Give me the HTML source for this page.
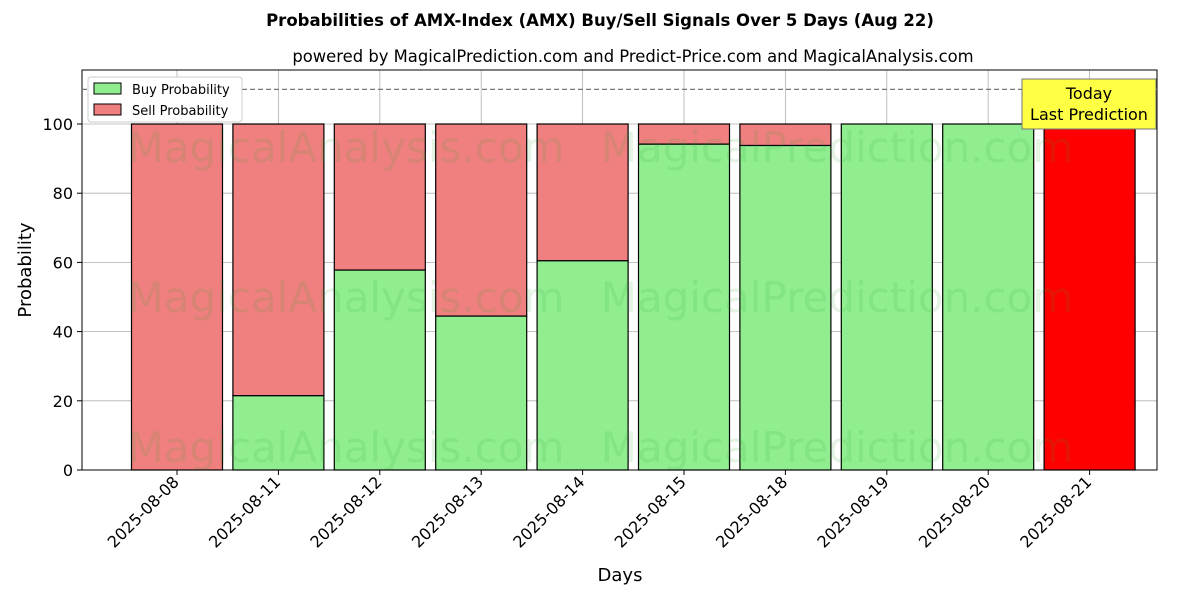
<!DOCTYPE html>
<html><head><meta charset="utf-8"><style>
body{margin:0;background:#fff;font-family:"DejaVu Sans","Liberation Sans",sans-serif;}
</style></head><body>
<svg id="chart" width="1200" height="600" xmlns="http://www.w3.org/2000/svg" font-family="DejaVu Sans, Liberation Sans, sans-serif">
<rect width="1200" height="600" fill="#fff"/>
<text x="600" y="26" text-anchor="middle" font-size="16.5" font-weight="bold">Probabilities of AMX-Index (AMX) Buy/Sell Signals Over 5 Days (Aug 22)</text>
<text x="633" y="62" text-anchor="middle" font-size="16.4">powered by MagicalPrediction.com and Predict-Price.com and MagicalAnalysis.com</text>
<g id="grid"></g>
<g id="bars"></g>
<g id="wm" font-size="42" fill="#2ca02c" fill-opacity="0.13">
<text x="346" y="162" text-anchor="middle">MagicalAnalysis.com</text>
<text x="837" y="162" text-anchor="middle">MagicalPrediction.com</text>
<text x="346" y="312" text-anchor="middle">MagicalAnalysis.com</text>
<text x="837" y="312" text-anchor="middle">MagicalPrediction.com</text>
<text x="346" y="462" text-anchor="middle">MagicalAnalysis.com</text>
<text x="837" y="462" text-anchor="middle">MagicalPrediction.com</text>
</g>
<g id="axes"></g>
<line x1="82" x2="1157" y1="89.4" y2="89.4" stroke="#777" stroke-width="1.2" stroke-dasharray="5,3"/>
<g>
<rect x="88" y="77" width="154" height="45" fill="#fff" stroke="#ccc" rx="3"/>
<rect x="94" y="83" width="27" height="11" fill="#90ee90" stroke="#000"/>
<text x="132" y="94" font-size="13">Buy Probability</text>
<rect x="94" y="104" width="27" height="11" fill="#f08080" stroke="#000"/>
<text x="132" y="115" font-size="13">Sell Probability</text>
</g>
<g>
<rect x="1022" y="79" width="134" height="50" fill="#ffff44" stroke="#777"/>
<text x="1089" y="99" text-anchor="middle" font-size="16">Today</text>
<text x="1089" y="120" text-anchor="middle" font-size="16">Last Prediction</text>
</g>
<text x="620" y="581" text-anchor="middle" font-size="18">Days</text>
<text transform="translate(31,270) rotate(-90)" text-anchor="middle" font-size="18">Probability</text>
</svg>
<script>
const categories=["2025-08-08","2025-08-11","2025-08-12","2025-08-13","2025-08-14","2025-08-15","2025-08-18","2025-08-19","2025-08-20","2025-08-21"];
const buyValues=[0,21.5,57.8,44.5,60.5,94.2,93.8,100,100,100];
const sellValues=[100,78.5,42.2,55.5,39.5,5.8,6.2,0,0,0];
const yTicks=[0,20,40,60,80,100];
const NS="http://www.w3.org/2000/svg";
const L=82,R=1157,T=70,B=470;
const x=i=>177+i*101.4;
const y=v=>470-v*3.46;
const bw=91;
function mk(tag,attrs,parent){const e=document.createElementNS(NS,tag);for(const k in attrs)e.setAttribute(k,attrs[k]);parent.appendChild(e);return e;}
const grid=document.getElementById('grid'),bars=document.getElementById('bars'),axes=document.getElementById('axes');
yTicks.forEach(t=>{
 const g=mk('line',{x1:L,x2:R,y1:y(t),y2:y(t),stroke:'#b0b0b0','stroke-width':0.8},grid);
 
 
 mk('line',{x1:L-5,x2:L,y1:y(t),y2:y(t),stroke:'#000'},axes);
 const tx=mk('text',{x:L-9,y:y(t)+6,'text-anchor':'end','font-size':16},axes);tx.textContent=t;
 
 
});
categories.forEach((c,i)=>{
 const g=mk('line',{x1:x(i),x2:x(i),y1:T,y2:B,stroke:'#b0b0b0','stroke-width':0.8},grid);
 
 
 const last=i===categories.length-1;
 const b=mk('rect',{x:x(i)-bw/2,y:y(buyValues[i]),width:bw,height:y(0)-y(buyValues[i]),fill:last?'#ff0000':'#90ee90',stroke:'#000','stroke-width':1.2},bars);
 
 
 const s=mk('rect',{x:x(i)-bw/2,y:y(buyValues[i]+sellValues[i]),width:bw,height:y(buyValues[i])-y(buyValues[i]+sellValues[i]),fill:last?'#ff0000':'#f08080',stroke:'#000','stroke-width':1.2},bars);
 
 
 mk('line',{x1:x(i),x2:x(i),y1:B,y2:B+5,stroke:'#000'},axes);
 const tx=mk('text',{transform:`translate(${x(i)+3},${B+13}) rotate(-45)`,'text-anchor':'end','font-size':16},axes);tx.textContent=c;
 
 
});
const f=mk('rect',{x:L,y:T,width:R-L,height:B-T,fill:'none',stroke:'#000','stroke-width':1},axes);


</script>
</body></html>
